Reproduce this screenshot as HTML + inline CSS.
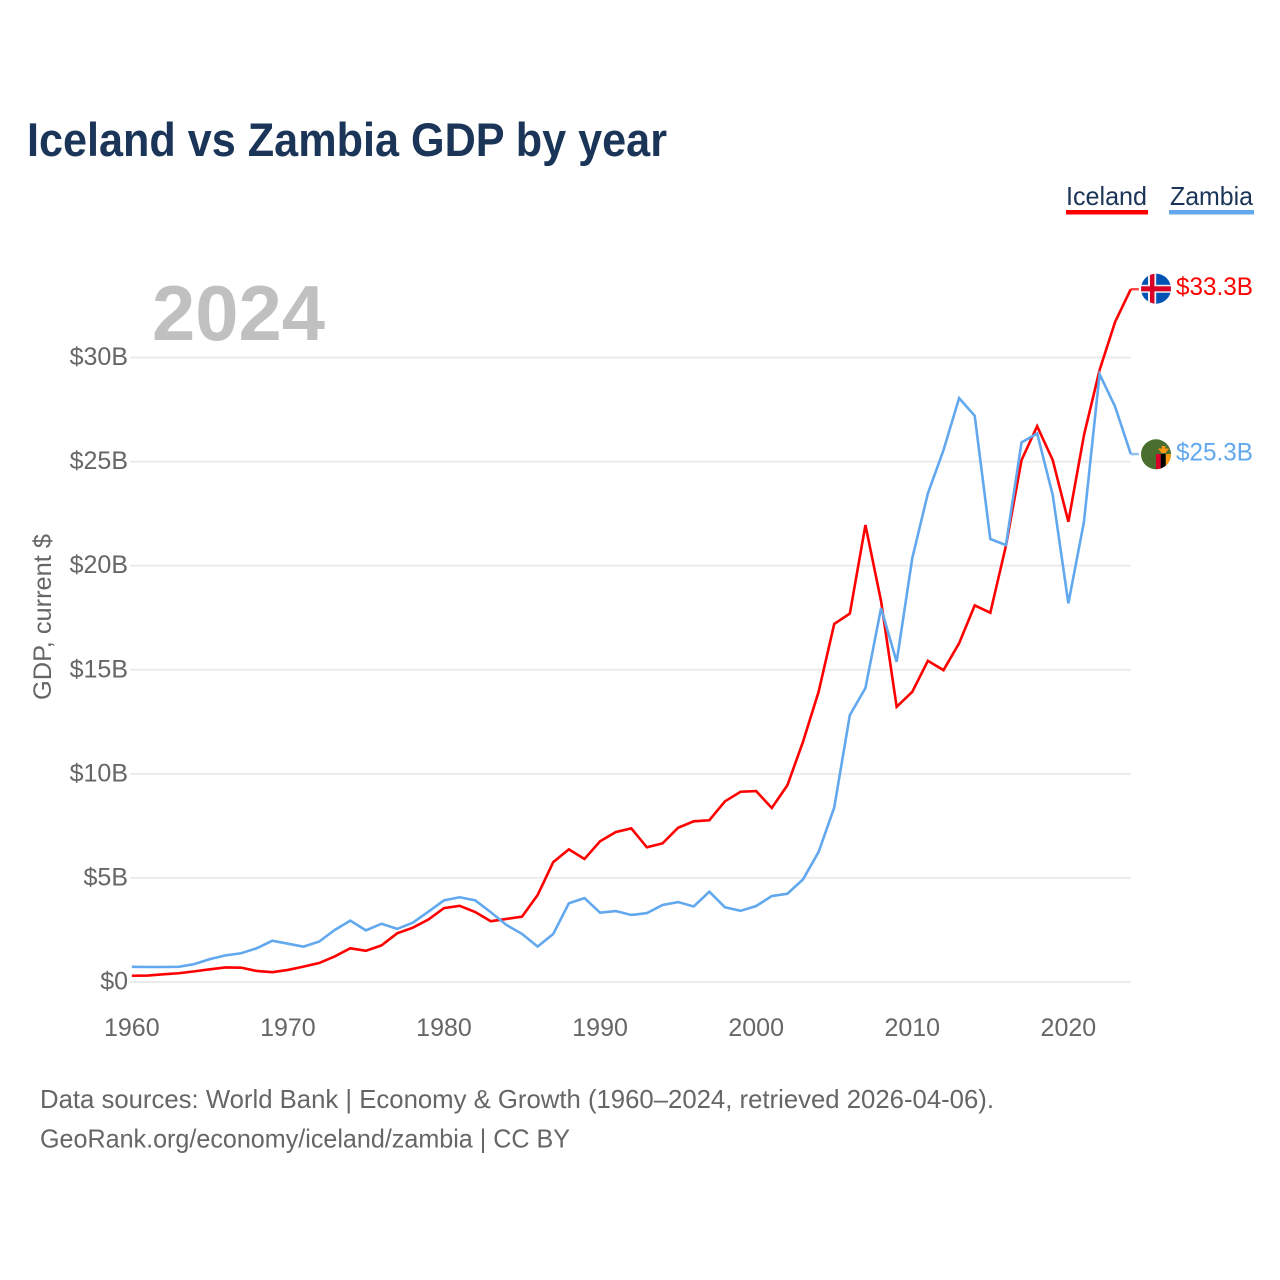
<!DOCTYPE html>
<html lang="en">
<head>
<meta charset="utf-8">
<title>Iceland vs Zambia GDP by year</title>
<style>
html,body{margin:0;padding:0;background:#fff;}
svg{display:block;font-family:"Liberation Sans",sans-serif;}
</style>
</head>
<body>
<svg id="chart" width="1280" height="1280" viewBox="0 0 1280 1280" xmlns="http://www.w3.org/2000/svg">
  <rect width="1280" height="1280" fill="#ffffff"/>
  <text x="27" y="156" font-size="47" font-weight="700" fill="#1a3557" textLength="640" lengthAdjust="spacingAndGlyphs">Iceland vs Zambia GDP by year</text>

  <g>
    <text x="1066" y="205" font-size="26" fill="#1a3557" textLength="81" lengthAdjust="spacingAndGlyphs">Iceland</text>
    <rect x="1066" y="210" width="82" height="4.5" fill="#ff0000"/>
  </g>
  <g>
    <text x="1170" y="205" font-size="26" fill="#1a3557" textLength="83" lengthAdjust="spacingAndGlyphs">Zambia</text>
    <rect x="1169" y="210" width="85" height="4.5" fill="#62a8ee"/>
  </g>

  <text x="152" y="340" font-size="78" font-weight="700" fill="#c0c0c0" textLength="173" lengthAdjust="spacingAndGlyphs">2024</text>

  <g id="grid"></g>
  <g id="yticks"></g>
  <g id="xticks"></g>
  <text transform="translate(51,700) rotate(-90)" font-size="25" fill="#666666" textLength="166" lengthAdjust="spacingAndGlyphs">GDP, current $</text>

  <g id="series"></g>

  <defs>
    <clipPath id="clip-is"><circle cx="1156" cy="288.7" r="15"/></clipPath>
    <clipPath id="clip-zm"><circle cx="1156" cy="454.3" r="15"/></clipPath>
  </defs>
  <g clip-path="url(#clip-is)">
    <rect x="1141" y="273" width="30" height="31" fill="#0052b4"/>
    <rect x="1141" y="284.8" width="30" height="8" fill="#f0f0f0"/>
    <rect x="1148" y="273" width="8.2" height="31" fill="#f0f0f0"/>
    <rect x="1141" y="286.3" width="30" height="5" fill="#d80027"/>
    <rect x="1150" y="273" width="4.4" height="31" fill="#d80027"/>
  </g>
  <g clip-path="url(#clip-zm)">
    <rect x="1141" y="439" width="30" height="31" fill="#496e2d"/>
    <rect x="1156" y="454" width="4.8" height="16" fill="#d80027"/>
    <rect x="1160.8" y="454" width="5" height="16" fill="#000000"/>
    <rect x="1165.8" y="454" width="5.2" height="16" fill="#ff9811"/>
    <path d="M1158 448.5 L1169 448.5 L1165.5 453 L1161.5 453 Z M1161.5 446 L1165.5 446 L1165 448.5 L1162 448.5 Z" fill="#ff9811"/>
  </g>

  <text x="1176" y="295" font-size="25" fill="#ff0000" textLength="77" lengthAdjust="spacingAndGlyphs">$33.3B</text>
  <text x="1176" y="460.5" font-size="25" fill="#62a8ee" textLength="77" lengthAdjust="spacingAndGlyphs">$25.3B</text>

  <text x="40" y="1108" font-size="26" fill="#666666" textLength="954" lengthAdjust="spacingAndGlyphs">Data sources: World Bank | Economy &amp; Growth (1960–2024, retrieved 2026-04-06).</text>
  <text x="40" y="1147.5" font-size="26" fill="#666666" textLength="530" lengthAdjust="spacingAndGlyphs">GeoRank.org/economy/iceland/zambia | CC BY</text>
</svg>
<script>
const years = [1960,1961,1962,1963,1964,1965,1966,1967,1968,1969,1970,1971,1972,1973,1974,1975,1976,1977,1978,1979,1980,1981,1982,1983,1984,1985,1986,1987,1988,1989,1990,1991,1992,1993,1994,1995,1996,1997,1998,1999,2000,2001,2002,2003,2004,2005,2006,2007,2008,2009,2010,2011,2012,2013,2014,2015,2016,2017,2018,2019,2020,2021,2022,2023,2024];
const iceland = [0.30,0.31,0.37,0.42,0.51,0.61,0.70,0.69,0.53,0.47,0.58,0.74,0.91,1.23,1.62,1.50,1.76,2.34,2.61,3.0,3.55,3.66,3.36,2.92,3.03,3.14,4.18,5.76,6.37,5.91,6.76,7.2,7.38,6.47,6.66,7.41,7.72,7.77,8.68,9.14,9.17,8.36,9.45,11.54,13.94,17.2,17.7,21.95,18.3,13.22,13.94,15.43,14.98,16.27,18.09,17.74,20.95,25.07,26.7,25.07,22.11,26.27,29.4,31.72,33.28];
const zambia = [0.73,0.72,0.72,0.73,0.86,1.10,1.28,1.38,1.62,1.98,1.84,1.70,1.94,2.5,2.95,2.48,2.80,2.55,2.85,3.38,3.92,4.07,3.92,3.35,2.74,2.31,1.70,2.31,3.78,4.03,3.33,3.41,3.22,3.31,3.70,3.84,3.63,4.34,3.59,3.42,3.65,4.13,4.24,4.93,6.25,8.38,12.82,14.12,17.96,15.38,20.36,23.47,25.55,28.05,27.2,21.28,20.99,25.92,26.35,23.39,18.19,22.11,29.2,27.63,25.36];
const yTickValues = [0,5,10,15,20,25,30];
const yTickLabels = ["$0","$5B","$10B","$15B","$20B","$25B","$30B"];
const xTickValues = [1960,1970,1980,1990,2000,2010,2020];
const xTickLabels = ["1960","1970","1980","1990","2000","2010","2020"];

const SVG_NS = "http://www.w3.org/2000/svg";
const plotLeft = 131.8, plotRight = 1130.8, plotBottom = 982, plotTop30 = 357.5;
function xScale(year){ return plotLeft + (year - years[0]) * (plotRight - plotLeft) / (years[years.length-1] - years[0]); }
function yScale(value){ return plotBottom - value * (plotBottom - plotTop30) / 30; }
function make(tag, attrs, parent){
  const el = document.createElementNS(SVG_NS, tag);
  for (const k in attrs) el.setAttribute(k, attrs[k]);
  parent.appendChild(el);
  return el;
}
const gridG = document.getElementById("grid");
const yG = document.getElementById("yticks");
const xG = document.getElementById("xticks");
const seriesG = document.getElementById("series");

yTickValues.forEach(function(v, i){
  const line = make("line", {x1:130, x2:plotRight, y1:yScale(v), y2:yScale(v), stroke:"#ebebeb", "stroke-width":2}, gridG);
  
  
  const t = make("text", {x:128, y:yScale(v)+7.5, "text-anchor":"end", "font-size":25, fill:"#666666"}, yG);
  
  
  t.textContent = yTickLabels[i];
});
xTickValues.forEach(function(v, i){
  const t = make("text", {x:xScale(v), y:1036, "text-anchor":"middle", "font-size":25, fill:"#666666"}, xG);
  
  
  t.textContent = xTickLabels[i];
});
function drawSeries(values, color, name){
  const pts = values.map(function(v, i){ return xScale(years[i]).toFixed(2) + "," + yScale(v).toFixed(2); });
  const last = yScale(values[values.length-1]);
  const stub = make("line", {x1:plotRight, x2:plotRight+8, y1:last, y2:last, stroke:color, "stroke-width":2.5, opacity:0.7}, seriesG);
  
  
  const line = make("polyline", {points:pts.join(" "), fill:"none", stroke:color, "stroke-width":2.6, "stroke-linejoin":"miter"}, seriesG);
  
  
}
drawSeries(iceland, "#ff0000", "iceland");
drawSeries(zambia, "#62a8ee", "zambia");
</script>
</body>
</html>
